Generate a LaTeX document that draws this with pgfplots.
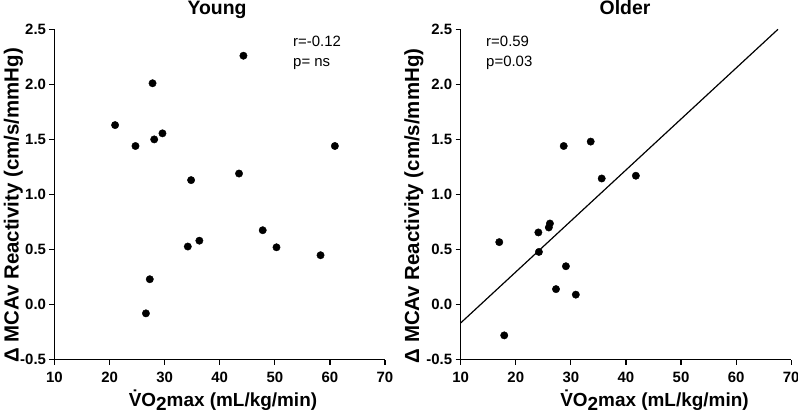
\documentclass[border=0pt]{standalone}
\usepackage{pgfplots}
\pgfplotsset{compat=1.18}
\usepackage{fontspec}
\setmainfont{Liberation Sans}
\newcommand{\xlab}{V̇O\raisebox{-0.22em}{2}max (mL/kg/min)}
\newcommand{\ylab}{Δ MCAv Reactivity (cm/s/mmHg)}
\begin{document}
\begin{tikzpicture}
\useasboundingbox (0,0) rectangle (798bp,415bp);
\pgfplotsset{
  myax/.style={
    scale only axis, width=330.5bp, height=330.3bp,
    xmin=10, xmax=70, ymin=-0.5, ymax=2.5,
    axis x line*=bottom, axis y line*=left,
    xtick={10,20,...,70}, ytick={-0.5,0,0.5,1,1.5,2,2.5},
    tick align=outside, major tick length=5bp,
    every tick/.style={black, line width=1.2bp},
    axis line style={black, line width=1.5bp},
    tick label style={font=\fontsize{15}{16}\selectfont\bfseries},
    xticklabel style={yshift=-4bp},
    /pgf/number format/assume math mode=true,
    yticklabel style={/pgf/number format/.cd, fixed, fixed zerofill, precision=1},
    clip=false,
  },
  dots/.style={only marks, mark=*, mark size=3.7bp, black},
}
% Young
\begin{axis}[myax, at={(54.5bp,55.4bp)}, anchor=south west]
\addplot[dots] coordinates {
(21.0,1.63)(24.7,1.44)(27.8,2.01)(28.1,1.50)(29.6,1.555)(34.8,1.13)
(43.5,1.19)(44.3,2.26)(60.9,1.44)(34.2,0.527)(36.3,0.58)(47.8,0.675)
(50.3,0.52)(58.3,0.448)(27.3,0.23)(26.6,-0.08)};
\node[anchor=base west, font=\fontsize{15}{16}\selectfont, inner sep=0pt] at (axis cs:53.3,2.34) {r=-0.12};
\node[anchor=base west, font=\fontsize{15}{16}\selectfont, inner sep=0pt] at (axis cs:53.3,2.163) {p= ns};
\end{axis}
% Older
\begin{axis}[myax, at={(460.7bp,55.4bp)}, anchor=south west]
\addplot[dots] coordinates {
(28.7,1.44)(33.6,1.48)(35.6,1.145)(41.8,1.17)(17.0,0.567)(24.1,0.655)
(26.0,0.70)(26.2,0.736)(24.2,0.478)(29.1,0.348)(27.3,0.14)(30.9,0.09)(17.9,-0.28)};
\addplot[black, line width=1.2bp] coordinates {(10,-0.167) (67.6,2.5)};
\node[anchor=base west, font=\fontsize{15}{16}\selectfont, inner sep=0pt] at (axis cs:14.6,2.34) {r=0.59};
\node[anchor=base west, font=\fontsize{15}{16}\selectfont, inner sep=0pt] at (axis cs:14.6,2.163) {p=0.03};
\end{axis}
% titles
\node[anchor=base, font=\fontsize{19.5}{20}\selectfont\bfseries, inner sep=0pt] at (217bp,400bp) {Young};
\node[anchor=base, font=\fontsize{19.5}{20}\selectfont\bfseries, inner sep=0pt] at (625bp,400bp) {Older};
% y labels
\node[rotate=90, anchor=base, font=\fontsize{20.5}{21}\selectfont\bfseries, inner sep=0pt] at (18.5bp,209.5bp) {\ylab};
\node[rotate=90, anchor=base, font=\fontsize{20.5}{21}\selectfont\bfseries, inner sep=0pt] at (419bp,209bp) {\ylab};
% x labels
\node[anchor=base, font=\fontsize{19}{20}\selectfont\bfseries, inner sep=0pt] at (223bp,9bp) {\xlab};
\node[anchor=base, font=\fontsize{19}{20}\selectfont\bfseries, inner sep=0pt] at (654.5bp,9bp) {\xlab};
\end{tikzpicture}
\end{document}
